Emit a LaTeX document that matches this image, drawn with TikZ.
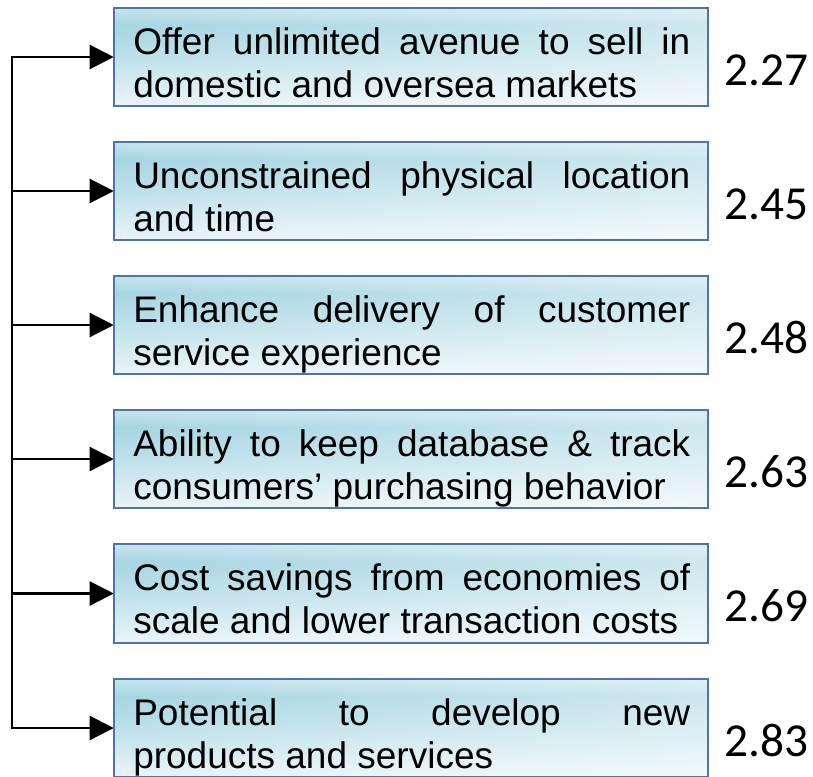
\documentclass[tikz,border=0pt]{standalone}
\usepackage{fontspec}
\setmainfont{Liberation Sans}
\newfontfamily\scorefont{Carlito}
\usetikzlibrary{arrows.meta,fadings}

\definecolor{cellline}{HTML}{4F75A8}
\definecolor{cellbot}{HTML}{EAF5F9}
\definecolor{cellmid}{HTML}{BADFE9}
\definecolor{celldark}{HTML}{A6D5E2}
\definecolor{celltop}{HTML}{C6E5EE}

% vertical fill of the cells: the path spans 25bp (bottom) to 75bp (top)
\pgfdeclareverticalshading{cellshade}{100bp}{%
  color(0bp)=(cellbot); color(25bp)=(cellbot); color(52bp)=(cellmid);
  color(66bp)=(celldark); color(75bp)=(celltop); color(100bp)=(celltop)}
% light sheen growing toward the right side of each cell
\tikzfading[name=cellglare, left color=transparent!100, right color=transparent!55]

% a first line spread over the full text width (font's own stretchable spaces)
\newcommand\fullline[1]{{\spaceskip=0pt\xspaceskip=0pt\relax\makebox[\hsize][s]{#1}}}

\begin{document}
\begin{tikzpicture}[x=0.75pt,y=-0.75pt,
  cell/.style={rectangle, minimum width=445.5pt, minimum height=73.5pt, inner sep=0pt},
  caption/.style={anchor=base west, inner sep=0pt, text width=417.75pt, align=justify,
    font=\fontsize{27.75pt}{32.25pt}\selectfont},
  score/.style={anchor=base east, inner sep=0pt, font=\scorefont\fontsize{35.5pt}{40pt}\selectfont},
  wire/.style={line width=1.7pt, black},
  feed/.style={wire, -{Triangle[length=18pt,width=18pt]}}]

\useasboundingbox (0,0) rectangle (813,776);

% cell frames
\node[cell] (b1) at (411,57) {};
\node[cell] (b2) at (411,191) {};
\node[cell] (b3) at (411,325) {};
\node[cell] (b4) at (411,459) {};
\node[cell] (b5) at (411,593.5) {};
\node[cell] (b6) at (411,728) {};

\foreach \b in {b1,b2,b3,b4,b5,b6}{
  \shade[shading=cellshade] (\b.south west) rectangle (\b.north east);
  \fill[white, path fading=cellglare] (\b.south west) rectangle (\b.north east);
  \draw[cellline, line width=1.5pt] (\b.south west) rectangle (\b.north east);
}

% cell captions
\node[caption] (t1) at (133,54) {\fullline{Offer unlimited avenue to sell in}\\domestic and oversea markets};
\node[caption] (t2) at (133,188) {\fullline{Unconstrained physical location}\\and time};
\node[caption] (t3) at (133,322) {\fullline{Enhance delivery of customer}\\service experience};
\node[caption] (t4) at (133,456) {\fullline{Ability to keep database \& track}\\consumers’ purchasing behavior};
\node[caption] (t5) at (133,590.5) {\fullline{Cost savings from economies of}\\scale and lower transaction costs};
\node[caption] (t6) at (133,725) {\fullline{Potential to develop new}\\products and services};

% scores
\node[score] (s1) at (809,85) {2.27};
\node[score] (s2) at (809,219) {2.45};
\node[score] (s3) at (809,353) {2.48};
\node[score] (s4) at (809,487) {2.63};
\node[score] (s5) at (809,621.5) {2.69};
\node[score] (s6) at (809,756) {2.83};

% spine and feeds
\foreach \k in {1,...,6}{
  \coordinate (j\k) at (12,0 |- b\k.west);
}
\draw[wire, line cap=rect] (j1) -- (j6);
\foreach \k in {1,...,6}{
  \draw[feed] (j\k) -- (b\k.west);
}
\end{tikzpicture}
\end{document}
